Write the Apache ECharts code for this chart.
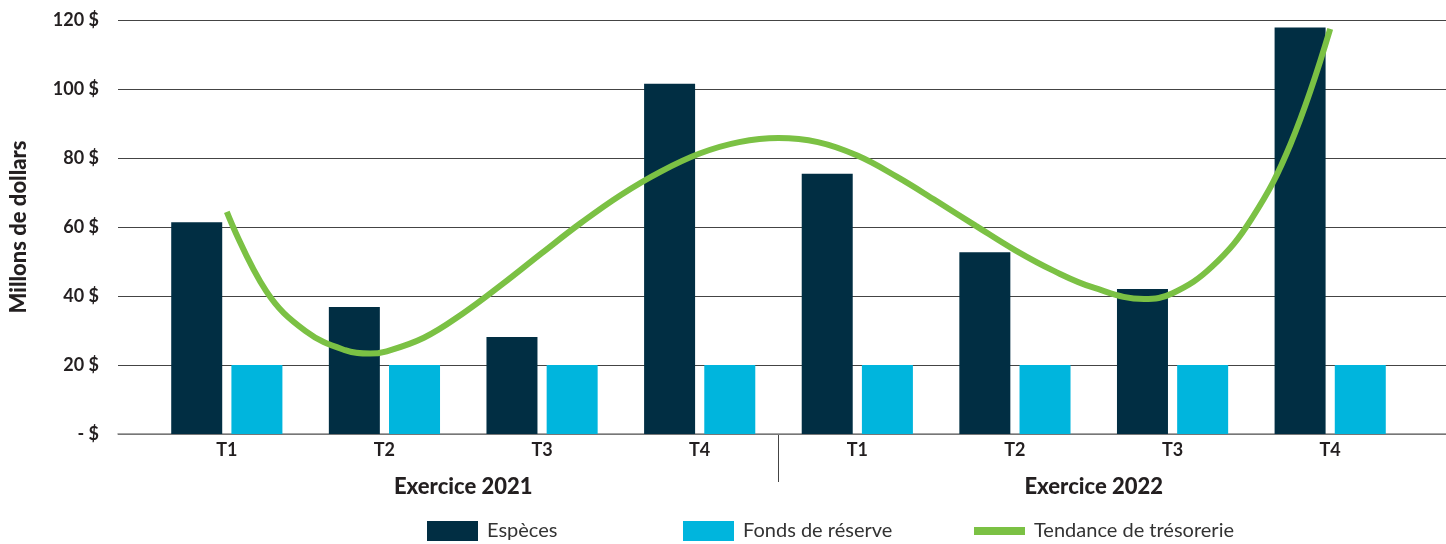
<!DOCTYPE html>
<html>
<head>
<meta charset="utf-8">
<script src="https://cdn.jsdelivr.net/npm/echarts@6/dist/echarts.min.js"></script>
<style>
	html, body { margin: 0; padding: 0; background: #fff; }
	#main { width: 1446px; height: 544px; }
</style>
</head>
<body>
<div id="main"></div>
<script>
var quarters = ["T1", "T2", "T3", "T4", "T1", "T2", "T3", "T4"];
var years = ["Exercice 2021", "Exercice 2022"];
var especes = [61.4, 36.8, 28.1, 101.5, 75.4, 52.7, 42, 117.8];
var fondsReserve = [20, 20, 20, 20, 20, 20, 20, 20];
// tendance, tous les quarts de trimestre + creux (position, valeur)
var tendancePos = [0.5, 0.75, 1, 1.25, 1.41, 1.5, 1.75, 2, 2.25, 2.5, 2.75, 3, 3.25, 3.5, 3.75, 4,
	4.25, 4.5, 4.75, 5, 5.25, 5.5, 5.75, 6, 6.32, 6.5, 6.75, 7, 7.25, 7.5];
var tendanceVal = [64.4, 41.4, 29.8, 24.3, 23.3, 23.8, 27.9, 35, 43.5, 52.5, 61.3, 69.3, 76, 81.3, 84.6, 85.8,
	84.6, 80.7, 74.6, 67.6, 60.4, 53.3, 47.2, 42.4, 39.1, 40.8, 48.5, 62.3, 84.2, 117.4];
var yLabels = ["- $", "20 $", "40 $", "60 $", "80 $", "100 $", "120 $"];

var tendance = [];
for (var i = 0; i < tendancePos.length; i++) {
	tendance.push([tendancePos[i], tendanceVal[i]]);
}

var font = "Lato";
var textColor = "#231f20";
var legendText = {color: "#333", fontSize: 20, padding: [0, 0, 0, 4]};

var myChart = echarts.init(document.getElementById("main"));

var option = {
	animation: false,
	textStyle: {fontFamily: font},
	grid: [
		{left: 148, right: 37, top: 20, bottom: 110},
		{left: 116, right: 0, top: 20, bottom: 110}
	],
	xAxis: [
		{
			type: "category",
			gridIndex: 0,
			data: quarters,
			axisLine: {show: false},
			axisTick: {show: false},
			axisLabel: {color: textColor, fontSize: 18, fontWeight: "bold", margin: 7}
		},
		{
			type: "category",
			gridIndex: 0,
			data: years,
			position: "bottom",
			axisLine: {show: false},
			axisTick: {show: false},
			axisLabel: {color: textColor, fontSize: 22, fontWeight: 900, margin: 42}
		},
		{
			type: "value",
			gridIndex: 0,
			min: 0,
			max: 8,
			show: false
		},
		{
			type: "value",
			gridIndex: 1,
			min: 0,
			max: 1,
			axisLine: {show: true, lineStyle: {color: "#888", width: 1.5}},
			axisTick: {show: false},
			axisLabel: {show: false},
			splitLine: {show: false}
		}
	],
	yAxis: [
		{
			type: "value",
			gridIndex: 0,
			min: 0,
			max: 120,
			interval: 20,
			show: false
		},
		{
			type: "value",
			gridIndex: 1,
			min: 0,
			max: 120,
			interval: 20,
			name: "Millons de dollars",
			nameLocation: "middle",
			nameRotate: 90,
			nameGap: 88,
			nameTextStyle: {color: textColor, fontSize: 22, fontWeight: 900},
			axisLine: {show: false},
			axisTick: {show: false},
			axisLabel: {
				color: textColor,
				fontSize: 18,
				fontWeight: "bold",
				margin: 19,
				formatter: function (v) {
					return yLabels[Math.round(v / 20)];
				}
			},
			splitLine: {lineStyle: {color: "#444", width: 1}}
		}
	],
	legend: [
		{
			data: ["Espèces"],
			left: 427,
			top: 521,
			padding: 0,
			icon: "rect",
			itemWidth: 51,
			itemHeight: 20,
			textStyle: legendText
		},
		{
			data: ["Fonds de réserve"],
			left: 683,
			top: 521,
			padding: 0,
			icon: "rect",
			itemWidth: 51,
			itemHeight: 20,
			textStyle: legendText
		},
		{
			data: [{name: "Tendance de trésorerie", icon: "rect"}],
			left: 974,
			top: 521,
			padding: 0,
			itemWidth: 51,
			itemHeight: 8,
			textStyle: legendText
		}
	],
	series: [
		{
			name: "Espèces",
			type: "bar",
			xAxisIndex: 0,
			yAxisIndex: 0,
			data: especes,
			barWidth: 51,
			barGap: "18%",
			itemStyle: {color: "#012e43"}
		},
		{
			name: "Fonds de réserve",
			type: "bar",
			xAxisIndex: 0,
			yAxisIndex: 0,
			data: fondsReserve,
			barWidth: 51,
			itemStyle: {color: "#00b5dd"}
		},
		{
			name: "Tendance de trésorerie",
			type: "line",
			xAxisIndex: 2,
			yAxisIndex: 0,
			data: tendance,
			smooth: 0.4,
			showSymbol: false,
			itemStyle: {color: "#7bc144"},
			lineStyle: {color: "#7bc144", width: 6},
			z: 5
		}
	]
};

myChart.setOption(option);

// trait vertical entre les deux exercices
var sepX = myChart.convertToPixel({xAxisIndex: 2}, 4);
var baseY = myChart.convertToPixel({yAxisIndex: 0}, 0);
myChart.setOption({
	graphic: [{
		type: "line",
		shape: {x1: sepX, y1: baseY, x2: sepX, y2: baseY + 48},
		style: {stroke: "#444", lineWidth: 1}
	}]
});
</script>
</body>
</html>
